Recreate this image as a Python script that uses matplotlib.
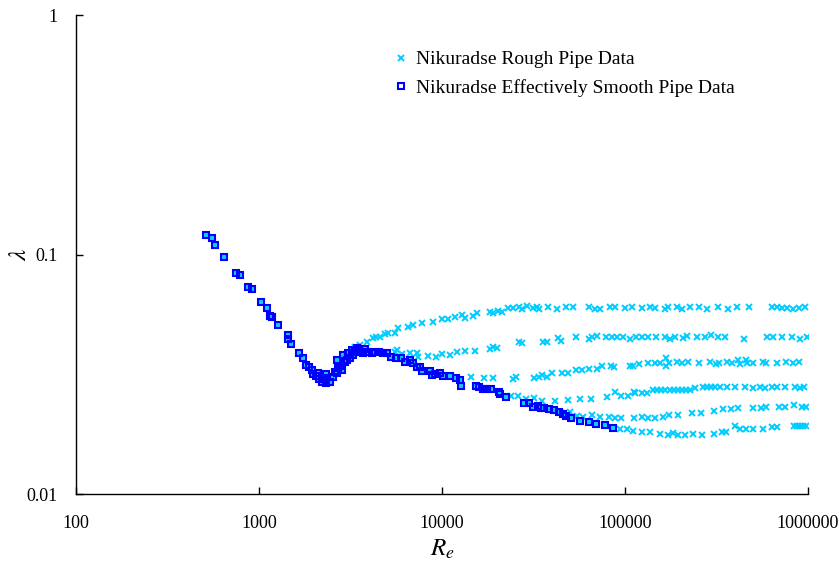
import matplotlib.pyplot as plt
import numpy as np

plt.rcParams['font.family'] = ['Liberation Serif', 'DejaVu Serif']
plt.rcParams['mathtext.fontset'] = 'stix'

# effectively smooth pipe points (also part of the rough series)
re_smooth = [513, 553, 575, 644, 749, 788, 871, 916, 1026, 1106, 1148, 1178, 1270,
             1440, 1440, 1495, 1654, 1740, 1806, 1876, 1948, 1973, 2049, 2100, 2127,
             2209, 2265, 2323, 2323, 2443, 2537, 2601, 2668, 2702, 2771, 2841, 2668,
             2877, 2951, 3026, 3063, 3141, 3221, 3262, 3346, 3431, 3518, 3563, 3700,
             3794, 3940, 4144, 4303, 4525, 4759, 5003, 5262, 5604, 5967, 6276, 6684,
             6941, 7300, 7579, 7772, 8595, 8814, 9153, 9747, 10130, 11060, 11930,
             12540, 12700, 15330, 15920, 16750, 17620, 18520, 20490, 20750, 22370,
             28060, 29880, 31410, 33460, 34740, 36080, 38420, 40920, 43580, 45820,
             47590, 50670, 56750, 63560, 69410, 77720, 85950]
lam_smooth = [0.121, 0.117, 0.110, 0.0976, 0.0837, 0.0821, 0.0732, 0.0718, 0.0633,
              0.0598, 0.0554, 0.0549, 0.0508, 0.0461, 0.0443, 0.0423, 0.0388, 0.0369,
              0.0345, 0.0340, 0.0329, 0.0318, 0.0311, 0.0321, 0.0302, 0.0295, 0.0306,
              0.0291, 0.0318, 0.0295, 0.0309, 0.0324, 0.0321, 0.0337, 0.0342, 0.0329,
              0.0362, 0.0380, 0.0355, 0.0362, 0.0388, 0.0369, 0.0399, 0.0380, 0.0391,
              0.0407, 0.0399, 0.0391, 0.0388, 0.0403, 0.0391, 0.0388, 0.0391, 0.0391,
              0.0388, 0.0388, 0.0373, 0.0369, 0.0369, 0.0355, 0.0362, 0.0352, 0.0340,
              0.0340, 0.0326, 0.0326, 0.0314, 0.0318, 0.0321, 0.0311, 0.0311, 0.0306,
              0.0298, 0.0283, 0.0283, 0.0280, 0.0275, 0.0275, 0.0275, 0.0266, 0.0261,
              0.0254, 0.0239, 0.0239, 0.0230, 0.0233, 0.0228, 0.0228, 0.0226, 0.0224,
              0.0220, 0.0216, 0.0212, 0.0208, 0.0202, 0.0200, 0.0196, 0.0194, 0.0189]

# rough pipe branches, r/k = 15, 30.6, 60, 126, 252, 507
re_r15 = [3346, 3563, 3891, 4196, 4358, 4582, 4880, 5067, 5534, 5746, 6517, 6941, 7772,
          8926, 10000, 10790, 11780, 12860, 13350, 14760, 15530, 18290, 19000, 20230,
          21270, 22940, 24430, 26340, 27360, 29140, 31410, 33040, 33880, 37940, 42490,
          47590, 51960, 63550, 68540, 72980, 82760, 88140, 100000, 109220, 123800,
          137000, 145800, 165400, 171800, 192400, 204900, 226500, 253700, 280600,
          322100, 365300, 409200, 475900, 635600, 676800, 720700, 767500, 827600,
          892600, 962500]
lam_r15 = [0.0411, 0.0419, 0.0431, 0.0448, 0.0452, 0.0452, 0.0465, 0.0470, 0.0470,
           0.0493, 0.0498, 0.0508, 0.0517, 0.0522, 0.0538, 0.0538, 0.0549, 0.0559,
           0.0543, 0.0554, 0.0570, 0.0576, 0.0570, 0.0581, 0.0576, 0.0598, 0.0598,
           0.0603, 0.0592, 0.0609, 0.0598, 0.0603, 0.0592, 0.0603, 0.0592, 0.0603,
           0.0603, 0.0603, 0.0592, 0.0592, 0.0603, 0.0603, 0.0598, 0.0603, 0.0598,
           0.0603, 0.0598, 0.0592, 0.0603, 0.0603, 0.0592, 0.0603, 0.0603, 0.0592,
           0.0603, 0.0592, 0.0603, 0.0603, 0.0603, 0.0603, 0.0598, 0.0598, 0.0592,
           0.0598, 0.0603]

re_r30 = [5534, 5674, 6043, 6684, 7300, 7390, 8381, 9270, 10000, 11060, 12080, 13350,
          15140, 18290, 19000, 19980, 26340, 27360, 35630, 37470, 43030, 44680, 53960,
          63560, 66000, 70290, 78710, 84870, 90390, 97470, 106500, 114800, 123800,
          133500, 147600, 165400, 176200, 187600, 207500, 218100, 247400, 273600,
          295100, 322100, 351800, 446800, 596700, 643600, 720700, 817200, 903900, 987000]
lam_r30 = [0.0391, 0.0399, 0.0384, 0.0388, 0.0388, 0.0373, 0.0377, 0.0373, 0.0384,
           0.0380, 0.0391, 0.0395, 0.0395, 0.0403, 0.0411, 0.0407, 0.0431, 0.0427,
           0.0431, 0.0431, 0.0448, 0.0435, 0.0452, 0.0443, 0.0452, 0.0456, 0.0452,
           0.0452, 0.0452, 0.0452, 0.0443, 0.0452, 0.0452, 0.0452, 0.0452, 0.0452,
           0.0443, 0.0452, 0.0448, 0.0456, 0.0452, 0.0452, 0.0461, 0.0452, 0.0452,
           0.0443, 0.0452, 0.0452, 0.0452, 0.0452, 0.0443, 0.0452]

re_r60 = [14400, 16960, 19000, 24430, 25370, 31810, 33880, 35180, 37470, 39900, 45250,
          48800, 53960, 58190, 63550, 70290, 74840, 83810, 87030, 106500, 110600,
          119300, 133500, 145800, 155300, 167500, 167500, 174000, 192400, 204900,
          220900, 253700, 291400, 314100, 326300, 360800, 384200, 414400, 424900,
          458200, 464000, 500300, 567400, 589300, 676800, 758000, 827600, 892600]
lam_r60 = [0.0309, 0.0306, 0.0306, 0.0302, 0.0309, 0.0306, 0.0309, 0.0314, 0.0309,
           0.0321, 0.0321, 0.0321, 0.0329, 0.0329, 0.0332, 0.0332, 0.0342, 0.0342,
           0.0340, 0.0342, 0.0342, 0.0349, 0.0352, 0.0352, 0.0352, 0.0369, 0.0342,
           0.0352, 0.0355, 0.0352, 0.0355, 0.0352, 0.0355, 0.0349, 0.0352, 0.0355,
           0.0352, 0.0362, 0.0349, 0.0362, 0.0352, 0.0352, 0.0355, 0.0352, 0.0352,
           0.0355, 0.0352, 0.0355]

re_r126 = [23820, 26010, 28770, 31810, 35180, 41440, 48800, 56750, 65170, 79700, 88140,
           95050, 103900, 112000, 113400, 123800, 131900, 142200, 149500, 157300,
           165400, 176200, 185300, 194800, 204900, 215400, 226500, 241200, 266800,
           280600, 295100, 310200, 330100, 360800, 399000, 452500, 500300, 546500,
           581900, 635600, 676800, 748400, 848700, 903900, 950500]
lam_r126 = [0.0256, 0.0256, 0.0249, 0.0252, 0.0244, 0.0244, 0.0246, 0.0249, 0.0249,
            0.0254, 0.0266, 0.0256, 0.0256, 0.0266, 0.0264, 0.0264, 0.0264, 0.0271,
            0.0271, 0.0271, 0.0271, 0.0271, 0.0271, 0.0271, 0.0271, 0.0271, 0.0271,
            0.0277, 0.0280, 0.0280, 0.0280, 0.0280, 0.0280, 0.0280, 0.0280, 0.0280,
            0.0277, 0.0280, 0.0277, 0.0280, 0.0280, 0.0280, 0.0280, 0.0277, 0.0280]

re_r252 = [44120, 50030, 54650, 58930, 66000, 72980, 81740, 88140, 95050, 112000,
           123800, 133500, 145800, 161300, 174000, 194800, 232300, 260100, 306300,
           343100, 378600, 414400, 500300, 553400, 589300, 694100, 748400, 838100,
           926800, 974700]
lam_r252 = [0.0220, 0.0220, 0.0212, 0.0210, 0.0214, 0.0210, 0.0210, 0.0208, 0.0208,
            0.0208, 0.0210, 0.0208, 0.0208, 0.0210, 0.0214, 0.0214, 0.0218, 0.0218,
            0.0222, 0.0226, 0.0226, 0.0228, 0.0228, 0.0228, 0.0230, 0.0230, 0.0230,
            0.0235, 0.0230, 0.0230]

re_r507 = [93860, 102600, 110600, 123800, 137000, 155300, 171800, 182900, 194800,
           212700, 235200, 263400, 306300, 338800, 356300, 399000, 424900, 458200,
           500300, 567400, 635600, 676800, 838100, 870300, 903900, 938600, 974700]
lam_r507 = [0.0187, 0.0187, 0.0183, 0.0181, 0.0181, 0.0178, 0.0176, 0.0180, 0.0176,
            0.0176, 0.0178, 0.0176, 0.0178, 0.0181, 0.0181, 0.0192, 0.0187, 0.0187,
            0.0187, 0.0187, 0.0190, 0.0190, 0.0192, 0.0192, 0.0192, 0.0192, 0.0192]

x_ticks = [100, 1000, 10000, 100000, 1000000]
x_labels = ['100', '1000', '10000', '100000', '1000000']
y_ticks = [0.01, 0.1, 1]
y_labels = ['0.01', '0.1', '1']

re_rough = np.concatenate([re_smooth, re_r15, re_r30, re_r60, re_r126, re_r252, re_r507])
lam_rough = np.concatenate([lam_smooth, lam_r15, lam_r30, lam_r60, lam_r126, lam_r252, lam_r507])

fig = plt.figure(figsize=(8.39, 5.67), dpi=100)
ax = fig.add_axes([0.0906, 0.1287, 0.8725, 0.8448])

ax.plot(re_rough, lam_rough, linestyle='none', marker='x', ms=3.8, mew=1.4,
        color='#00CCFF', label='Nikuradse Rough Pipe Data')
ax.plot(re_smooth, lam_smooth, linestyle='none', marker='s', ms=5, mew=1.5,
        mfc='none', mec='#0000FF', label='Nikuradse Effectively Smooth Pipe Data')

ax.set_xscale('log')
ax.set_yscale('log')
ax.set_xlim(100, 1000000)
ax.set_ylim(0.01, 1)
ax.set_xticks(x_ticks)
ax.set_xticklabels(x_labels)
ax.set_yticks(y_ticks)
ax.set_yticklabels(y_labels)
ax.minorticks_off()
ax.tick_params(axis='both', direction='in', length=5, width=1, labelsize=13)
ax.tick_params(axis='x', pad=15)
ax.tick_params(axis='y', pad=13)

for side in ['top', 'right']:
    ax.spines[side].set_visible(False)
for side in ['left', 'bottom']:
    ax.spines[side].set_linewidth(1)

ax.set_xlabel(r'$R_e$', fontsize=18, labelpad=4)
ax.set_ylabel(r'$\lambda$', fontsize=18)
ax.yaxis.set_label_coords(-0.062, 0.5)

leg = ax.legend(loc='upper left', bbox_to_anchor=(0.407, 0.962), frameon=False,
                fontsize=14, handletextpad=0.25, handlelength=1.0,
                labelspacing=0.55, markerscale=1.0)

fig.savefig('out.png', dpi=100)
